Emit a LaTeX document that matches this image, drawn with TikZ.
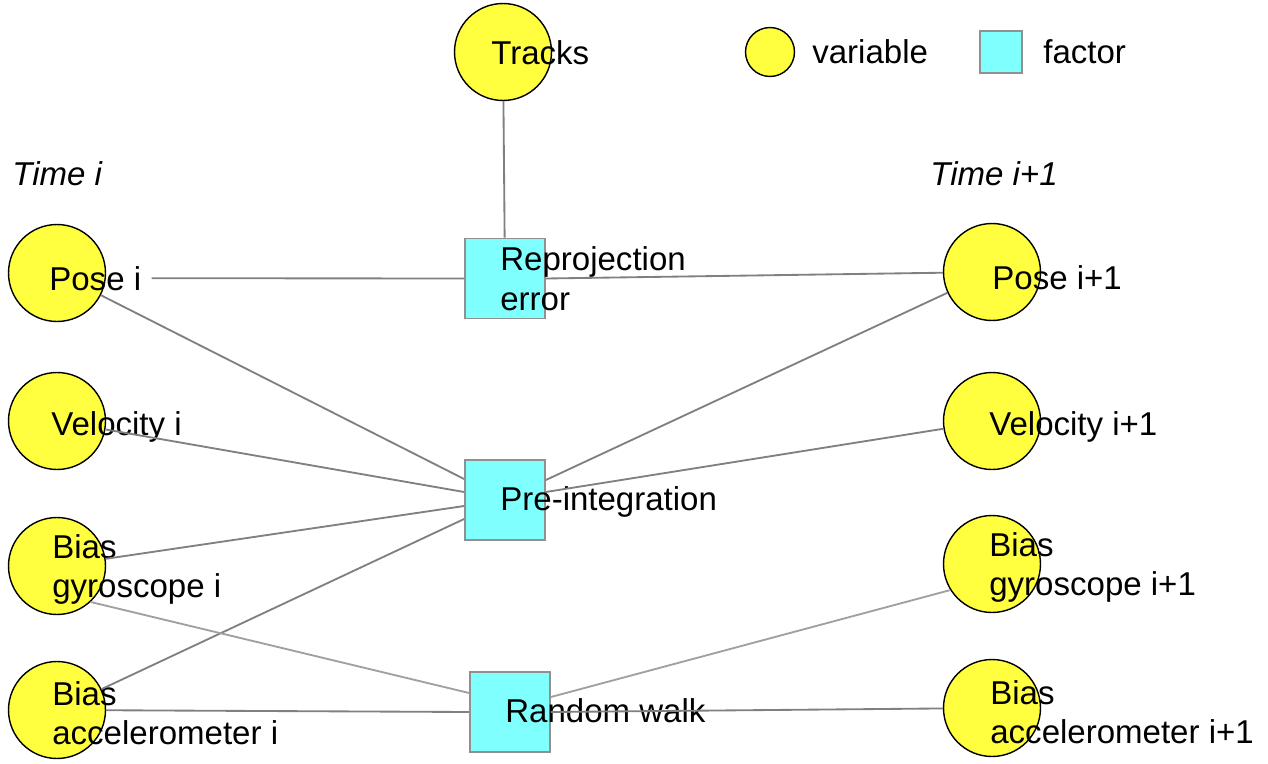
\documentclass[tikz,border=0pt]{standalone}
\usepackage{fontspec}
\setmainfont{Liberation Sans}
\usetikzlibrary{calc}
\definecolor{varyellow}{RGB}{255,255,64}
\definecolor{faccyan}{RGB}{128,255,255}
\definecolor{edgegray}{RGB}{128,128,128}
\definecolor{walkgray}{RGB}{160,160,160}
\definecolor{boxgray}{RGB}{144,144,144}

\begin{document}
\begin{tikzpicture}[x=0.02cm,y=-0.02cm,
  var/.style={circle,draw=black,fill=varyellow,minimum size=1.94cm,inner sep=0pt,line width=0.8pt},
  fac/.style={rectangle,draw=boxgray,fill=faccyan,minimum size=1.6cm,inner sep=0pt,line width=1pt},
  lbl/.style={anchor=base west,inner sep=0pt,align=left,font=\fontsize{18.8}{22.2}\selectfont},
  link/.style={draw=edgegray,line width=1.05pt},
  walk/.style={draw=walkgray,line width=1.05pt}]
\useasboundingbox (0,0) rectangle (1268,764);

% legend
\node[var,minimum size=0.98cm] (legvar) at (770,52) {};
\node[fac,minimum size=0.84cm] (legfac) at (1001,52) {};
\node[lbl] (legvart) at (812,63) {variable};
\node[lbl] (legfact) at (1043,63) {factor};

% variables
\node[var] (tracks) at (503,52) {};
\node[var] (pi) at (57,273) {};
\node[var] (vi) at (57,421) {};
\node[var] (gi) at (57,566) {};
\node[var] (ai) at (57,710) {};
\node[var] (pj) at (992,272) {};
\node[var] (vj) at (992,421) {};
\node[var] (gj) at (992,564) {};
\node[var] (aj) at (992,708) {};

% factors
\node[fac] (rep) at (505,278.5) {};
\node[fac] (pre) at (505,500) {};
\node[fac] (rw) at (510,712) {};

% labels (multi-line ones sit on their last line)
\node[lbl] (trackst) at (491,64) {Tracks};
\node[lbl,font=\fontsize{18.8}{22.2}\selectfont\itshape] (timei) at (12,185) {Time i};
\node[lbl,font=\fontsize{18.8}{22.2}\selectfont\itshape] (timej) at (930,185) {Time i+1};
\node[lbl] (pit) at (49,290) {Pose i};
\node[lbl] (vit) at (51,435) {Velocity i};
\node[lbl] (git) at (52,597) {Bias\\gyroscope i};
\node[lbl] (ait) at (52,744) {Bias\\accelerometer i};
\node[lbl] (pjt) at (992,289) {Pose i+1};
\node[lbl] (vjt) at (989,435) {Velocity i+1};
\node[lbl] (gjt) at (989,595) {Bias\\gyroscope i+1};
\node[lbl] (ajt) at (990,743) {Bias\\accelerometer i+1};
\node[lbl] (rept) at (500,310) {Reprojection\\error};
\node[lbl] (pret) at (500,510) {Pre-integration};
\node[lbl] (rwt) at (505,722) {Random walk};

% edges
\draw[link] (tracks) -- (rep);
\draw[link] ($(pit.east)+(10,0)$) -- (rep.west);
\draw[link] (rep.east) -- (pj);
\draw[link] (pi) -- ($(pre.west)+(0,-21)$);
\draw[link] (vi) -- ($(pre.west)+(0,-8)$);
\draw[link] (gi) -- ($(pre.west)+(0,6)$);
\draw[link] (ai) -- ($(pre.west)+(0,19)$);
\draw[link] (pj) -- ($(pre.east)+(0,-20)$);
\draw[link] (vj) -- ($(pre.east)+(0,-8)$);
\draw[walk] (gi.-47) -- ($(rw.west)+(0,-19)$);
\draw[link] (ai) -- (rw.west);
\draw[walk] ($(rw.east)+(0,-15)$) -- (gj.212);
\draw[link] (rw.east) -- (aj);
\end{tikzpicture}
\end{document}
